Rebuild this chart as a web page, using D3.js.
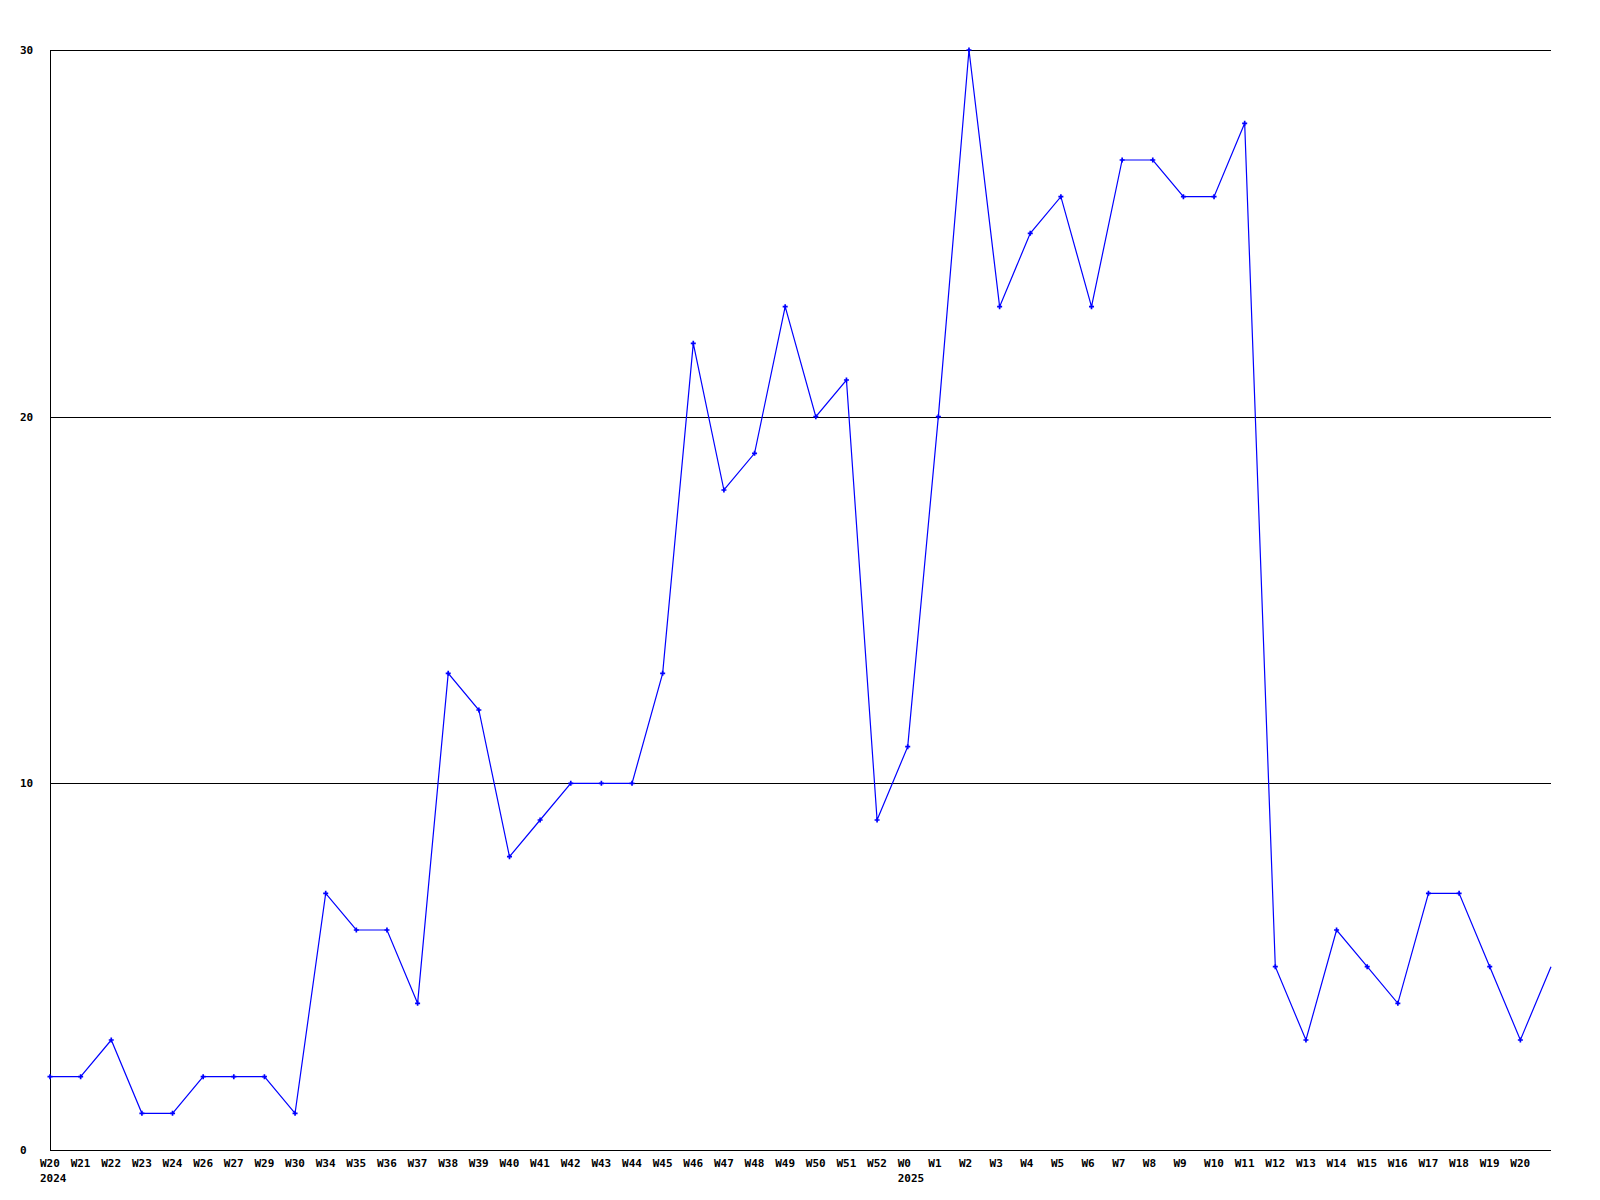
<!DOCTYPE html>
<html>
<head>
<meta charset="utf-8">
<script src="https://cdn.jsdelivr.net/npm/d3@7"></script>
<style>
  html, body { margin: 0; padding: 0; background: #fff; }
  svg text { font-family: "DejaVu Sans Mono", "Liberation Mono", monospace; font-weight: bold; font-size: 11px; fill: #000; }
</style>
</head>
<body>
<svg id="chart" width="1600" height="1200"></svg>
<script>
const weeks = ["W20","W21","W22","W23","W24","W26","W27","W29","W30","W34","W35","W36",
  "W37","W38","W39","W40","W41","W42","W43","W44","W45","W46","W47","W48","W49",
  "W50","W51","W52","W0","W1","W2","W3","W4","W5","W6","W7","W8","W9",
  "W10","W11","W12","W13","W14","W15","W16","W17","W18","W19","W20","W21"];
const values = [2,2,3,1,1,2,2,2,1,7,6,6,
  4,13,12,8,9,10,10,10,13,22,18,19,23,
  20,21,9,11,20,30,23,25,26,23,27,27,26,
  26,28,5,3,6,5,4,7,7,5,3,5];
const yearLabels = [{index: 0, text: "2024"}, {index: 28, text: "2025"}];
const yTicks = [0, 10, 20, 30];
const labelCount = 49; // last point sits on the right edge without a label

const svg = d3.select("#chart");
const mLeft = 50, mRight = 1551, mTop = 50, mBottom = 1150;

const x = d3.scaleLinear().domain([0, values.length - 1]).range([mLeft, mRight]);
const y = d3.scaleLinear().domain([0, 30]).range([mBottom, mTop]);

// gridlines
svg.append("g").selectAll("line").data(yTicks.filter(d => d > 0)).join("line")
  .attr("x1", mLeft).attr("x2", mRight)
  .attr("y1", d => Math.round(y(d)) + 0.5).attr("y2", d => Math.round(y(d)) + 0.5)
  .attr("stroke", "#000").attr("stroke-width", 1);

// axes lines
svg.append("line").attr("x1", mLeft + 0.5).attr("x2", mLeft + 0.5).attr("y1", mTop).attr("y2", mBottom + 1)
  .attr("stroke", "#000");
svg.append("line").attr("x1", mLeft).attr("x2", mRight).attr("y1", mBottom + 0.5).attr("y2", mBottom + 0.5)
  .attr("stroke", "#000");

// y labels
svg.append("g").selectAll("text").data(yTicks).join("text")
  .attr("x", 20).attr("y", d => y(d) + 4)
  .text(d => d);

// x labels
svg.append("g").selectAll("text").data(weeks.slice(0, labelCount)).join("text")
  .attr("x", (d, i) => x(i) - 10).attr("y", 1167)
  .text(d => d);

svg.append("g").selectAll("text").data(yearLabels).join("text")
  .attr("x", d => x(d.index) - 10).attr("y", 1182)
  .text(d => d.text);

// line
const line = d3.line().x((d, i) => x(i)).y(d => y(d));
svg.append("path").datum(values)
  .attr("d", line).attr("fill", "none").attr("stroke", "#0000ff").attr("stroke-width", 1.2);

// markers
const sym = d3.symbol().type(d3.symbolCross).size(14);
svg.append("g").selectAll("path").data(values.slice(0, labelCount)).join("path")
  .attr("transform", (d, i) => `translate(${x(i)},${y(d)})`)
  .attr("d", sym).attr("fill", "#0000ff");
</script>
</body>
</html>
